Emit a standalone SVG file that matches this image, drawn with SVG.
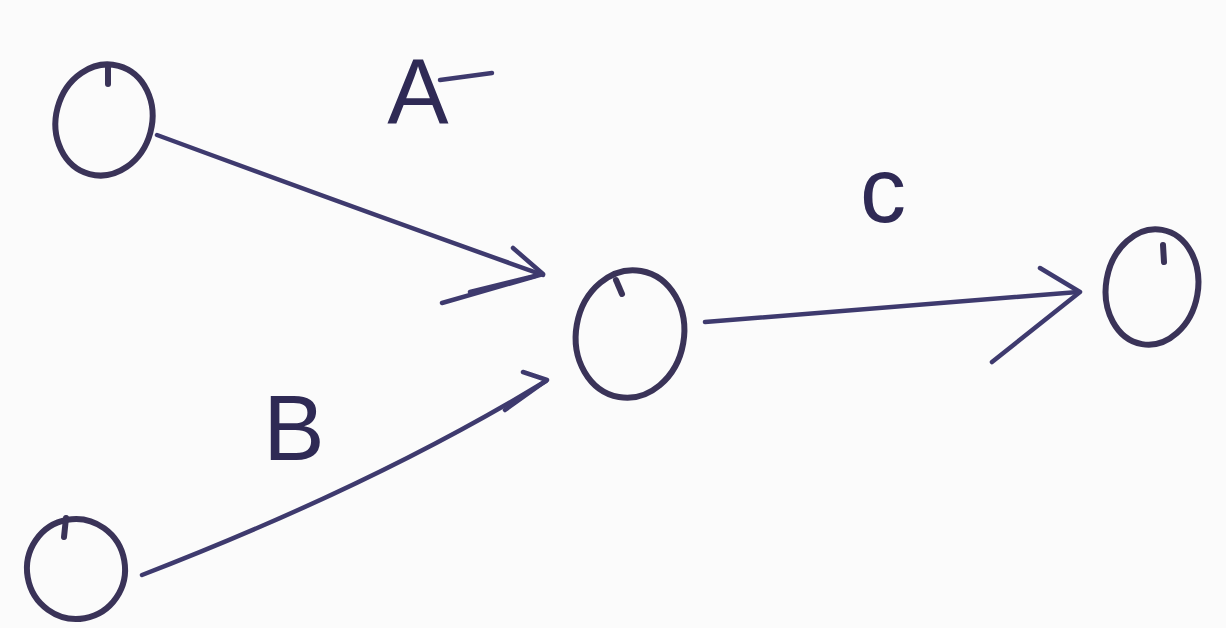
<svg xmlns="http://www.w3.org/2000/svg" width="1226" height="628" viewBox="0 0 1226 628">
  <style>
    .node { fill: none; stroke: #3a3358; stroke-width: 6; stroke-linecap: round; }
    .edge { fill: none; stroke: #3e3a6e; stroke-width: 4.5; stroke-linecap: round; stroke-linejoin: round; }
    .lbl { font-family: "Liberation Sans", "DejaVu Sans", sans-serif; font-size: 92px; fill: #2f2a55; text-anchor: middle; }
  </style>
  <rect x="0" y="0" width="1226" height="628" fill="#fbfbfb"/>
  <g id="node-a-src">
    <ellipse class="node" cx="104" cy="120" rx="48" ry="56" transform="rotate(15 104 120)"/>
    <path class="node" d="M108 66 L108 84"/>
  </g>
  <g id="node-b-src">
    <ellipse class="node" cx="76" cy="569" rx="49" ry="50" transform="rotate(-10 76 569)"/>
    <path class="node" d="M66 518 L64 537"/>
  </g>
  <g id="node-mid">
    <ellipse class="node" cx="630" cy="334" rx="54" ry="64" transform="rotate(10 630 334)"/>
    <path class="node" d="M616 280 L622 294"/>
  </g>
  <g id="node-end">
    <ellipse class="node" cx="1152" cy="287" rx="46" ry="58" transform="rotate(10 1152 287)"/>
    <path class="node" d="M1163 245 L1164 262"/>
  </g>
  <g id="connectors">
    <path class="edge" d="M157 135 Q360 210 543 275"/>
    <path class="edge" d="M513 248 L543 274 L442 303"/>
    <path class="edge" d="M470 292 L535 276"/>
    <path class="edge" d="M142 575 Q375 485 546 381"/>
    <path class="edge" d="M523 372 L547 380 L505 410"/>
    <path class="edge" d="M705 322 L1078 292"/>
    <path class="edge" d="M1040 268 L1080 292 L992 362"/>
  </g>
  <g id="labels">
    <text class="lbl" x="418" y="124">A</text>
    <path class="edge" d="M440 80 L492 73"/>
    <text class="lbl" x="294" y="460">B</text>
    <text class="lbl" x="883" y="222">c</text>
  </g>
</svg>
